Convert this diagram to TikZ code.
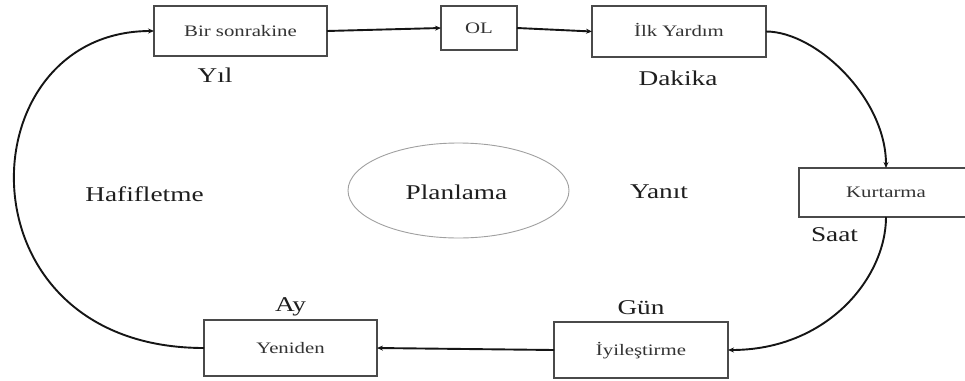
\documentclass[tikz,border=0pt]{standalone}
\usepackage{fontspec}
\setmainfont{Liberation Serif}[FakeStretch=1.3]
\usetikzlibrary{arrows.meta,shapes.geometric}
\definecolor{boxline}{HTML}{4A4A4A}
\definecolor{boxtext}{HTML}{333333}
\definecolor{tagtext}{HTML}{1E1E1E}
\definecolor{flowline}{HTML}{151515}
\definecolor{ringline}{HTML}{A0A0A0}
\begin{document}
\begin{tikzpicture}[x=1pt,y=-1pt,
  box/.style={draw=boxline, line width=1.5pt, fill=white, inner sep=0pt, outer sep=0pt,
    text height=10pt, text depth=0pt, font=\fontsize{16}{18}\selectfont, text=boxtext},
  tag/.style={anchor=base, inner sep=0pt, font=\fontsize{21}{24}\selectfont, text=tagtext},
  flow/.style={line width=1.9pt, draw=flowline, -{Stealth[length=6pt,width=5pt]}}]
\clip (0,0) rectangle (965,380);
\fill[white] (0,0) rectangle (965,380);

% phase boxes
\node[box, minimum width=173pt, minimum height=50pt] (bir)  at (240.5,31)   {Bir sonrakine};
\node[box, minimum width=76pt,  minimum height=44pt] (ol)   at (479,28)     {OL};
\node[box, minimum width=174pt, minimum height=51pt] (ilk)  at (679,31.5)   {İlk Yardım};
\node[box, minimum width=174pt, minimum height=49pt] (kurt) at (886,192.5)  {Kurtarma};
\node[box, minimum width=174pt, minimum height=56pt] (iyi)  at (641,350)    {İyileştirme};
\node[box, minimum width=173pt, minimum height=56pt] (yen)  at (290.5,348)  {Yeniden};

% centre
\node[ellipse, draw=ringline, line width=0.9pt, minimum width=221pt, minimum height=95pt,
      inner sep=0pt] (plan) at (458.5,190.5) {};
\node[tag] (plantext) at (456.5,199) {Planlama};

% time scale and phase labels
\node[tag] (yil)    at (215,82)    {Yıl};
\node[tag] (dakika) at (678,85)    {Dakika};
\node[tag] (hafif)  at (144.5,201) {Hafifletme};
\node[tag] (yanit)  at (659,198)   {Yanıt};
\node[tag] (saat)   at (834.5,241) {Saat};
\node[tag] (gun)    at (641,314)   {Gün};
\node[tag] (ay)     at (290.5,311) {Ay};

% cycle
\draw[flow] (bir.east) -- (ol.west);
\draw[flow] (ol.east) -- (ilk.west);
\draw[flow] (ilk.east) .. controls +(50,0) and +(0,-70) .. (kurt.north);
\draw[flow] (kurt.south) .. controls +(0,60) and +(100,0) .. (iyi.east);
\draw[flow] (iyi.west) -- (yen.east);
\draw[flow] (yen.west) .. controls +(-249,0) and +(-189,0) .. (bir.west);
\end{tikzpicture}
\end{document}
